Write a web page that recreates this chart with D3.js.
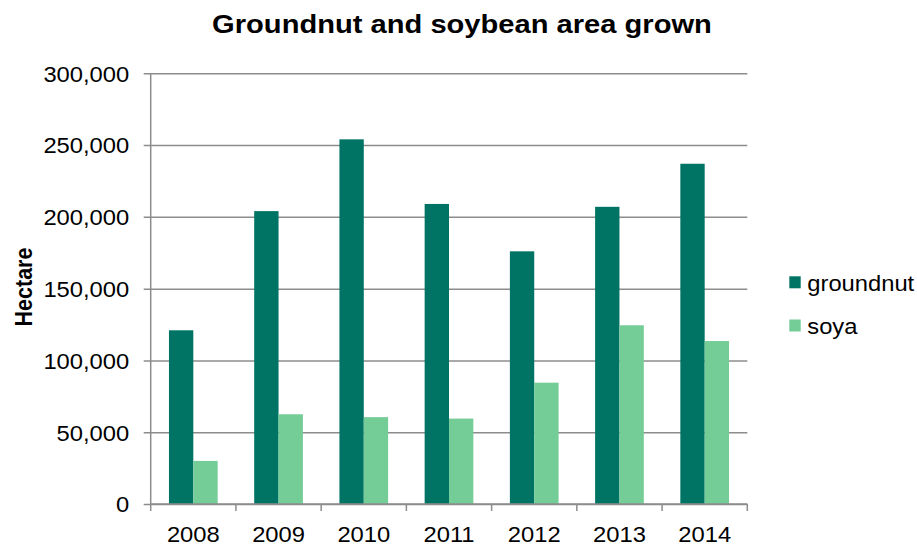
<!DOCTYPE html>
<html>
<head>
<meta charset="utf-8">
<script src="https://cdn.jsdelivr.net/npm/d3@7"></script>
<style>
  html, body { margin: 0; padding: 0; background: #fff; }
  svg { display: block; font-family: "Liberation Sans", Arial, sans-serif; }
</style>
</head>
<body>
<svg id="chart" width="917" height="546"></svg>
<script>
// Area grown (hectare) per year
const years = ["2008", "2009", "2010", "2011", "2012", "2013", "2014"];
const seriesNames = ["groundnut", "soya"];
const groundnut = [121000, 204000, 254000, 209000, 176000, 207000, 237000];
const soya = [30000, 62500, 60500, 59500, 84500, 124500, 113500];
const yTicks = [0, 50000, 100000, 150000, 200000, 250000, 300000];

const colors = { groundnut: "#007464", soya: "#74cc96" };
const gridColor = "#8c8c8c";
const stretch = "scale(1.08,1)";

const rows = years.map((yr, i) => ({ year: yr, groundnut: groundnut[i], soya: soya[i] }));

const svg = d3.select("#chart");
const plotLeft = 150.7, plotRight = 747.3, plotTop = 73.3, plotBottom = 504;

const x0 = d3.scaleBand().domain(years).range([plotLeft, plotRight]).padding(0);
const x1 = d3.scaleBand().domain(seriesNames).range([0, x0.bandwidth()])
  .paddingInner(0).paddingOuter(0.75);
const y = d3.scaleLinear().domain([0, 300000]).range([plotBottom, plotTop]);

// Horizontal gridlines with ticks on the left
const yAxis = svg.append("g")
  .attr("transform", `translate(${plotLeft},0)`)
  .call(d3.axisLeft(y).tickValues(yTicks).tickSize(7).tickSizeOuter(0)
    .tickFormat(d3.format(",")));
yAxis.select(".domain").attr("stroke", gridColor).attr("stroke-width", 1.5)
  .attr("d", `M0,${plotBottom}V${plotTop}`);
yAxis.selectAll(".tick line").attr("stroke", gridColor).attr("stroke-width", 1.5)
  .attr("x1", -7).attr("x2", plotRight - plotLeft);
yAxis.selectAll(".tick text")
  .attr("x", -21.5 / 1.08).attr("dy", null).attr("y", 7.8)
  .attr("transform", stretch)
  .attr("fill", "#000").attr("font-size", 22)
  .attr("font-family", "Liberation Sans, Arial, sans-serif");

// Bars
const groups = svg.append("g").selectAll("g").data(rows).join("g")
  .attr("transform", d => `translate(${x0(d.year)},0)`);
groups.selectAll("rect")
  .data(d => seriesNames.map(k => ({ key: k, value: d[k] })))
  .join("rect")
  .attr("x", d => x1(d.key))
  .attr("width", x1.bandwidth())
  .attr("y", d => y(d.value))
  .attr("height", d => y(0) - y(d.value))
  .attr("fill", d => colors[d.key]);

// Category axis along the bottom
const xAxis = svg.append("g").attr("transform", `translate(0,${plotBottom})`);
xAxis.append("line").attr("x1", plotLeft).attr("x2", plotRight)
  .attr("stroke", gridColor).attr("stroke-width", 1.5);
const bounds = years.map(yv => x0(yv)).concat([plotRight]);
xAxis.selectAll("line.tk").data(bounds).join("line").attr("class", "tk")
  .attr("x1", d => d).attr("x2", d => d).attr("y1", 0).attr("y2", 7)
  .attr("stroke", gridColor).attr("stroke-width", 1.5);
xAxis.selectAll("text").data(years).join("text")
  .attr("transform", d => `translate(${x0(d) + x0.bandwidth() / 2},37.5) ${stretch}`)
  .attr("text-anchor", "middle").attr("font-size", 22).attr("fill", "#000")
  .text(d => d);

// Title
svg.append("text")
  .attr("transform", `translate(462,33) scale(1.12,1)`)
  .attr("text-anchor", "middle").attr("font-size", 26).attr("font-weight", "bold")
  .text("Groundnut and soybean area grown");

// Axis title
svg.append("text")
  .attr("transform", `translate(31.5,287) scale(1.15,1) rotate(-90)`)
  .attr("text-anchor", "middle").attr("font-size", 21.5).attr("font-weight", "bold")
  .text("Hectare");

// Legend
const legend = svg.append("g");
seriesNames.forEach((name, i) => {
  const cy = 282.3 + i * 43.2;
  legend.append("rect").attr("x", 789.3).attr("y", cy - 6).attr("width", 11.4).attr("height", 12)
    .attr("fill", colors[name]);
  legend.append("text")
    .attr("transform", `translate(807.3,${cy + 8.5}) ${stretch}`)
    .attr("font-size", 22).attr("fill", "#000").text(name);
});
</script>
</body>
</html>
